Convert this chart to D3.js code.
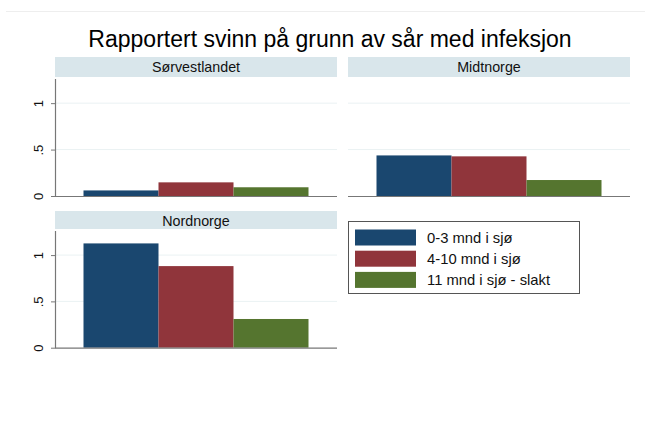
<!DOCTYPE html>
<html>
<head>
<meta charset="utf-8">
<title>Rapportert svinn</title>
<script src="https://d3js.org/d3.v7.min.js"></script>
<style>
  body { margin: 0; background: #fff; }
  text { font-family: Arial, "Liberation Sans", sans-serif; }
</style>
</head>
<body>
<script>
// data
var regions = ["Sørvestlandet", "Midtnorge", "Nordnorge"];
var groups = ["0-3 mnd i sjø", "4-10 mnd i sjø", "11 mnd i sjø - slakt"];
var sorvest = [0.06, 0.147, 0.094];
var midt = [0.437, 0.427, 0.172];
var nord = [1.126, 0.881, 0.31];
var yTicks = [0, 0.5, 1];
var tickLabels = ["0", ".5", "1"];
var colors = ["#1a476f", "#90353b", "#55752f"];

var values = [sorvest, midt, nord];

var svg = d3.select("body").append("svg")
    .attr("width", 645)
    .attr("height", 446);

// faint frame line at top
svg.append("line")
    .attr("x1", 6).attr("x2", 645)
    .attr("y1", 11.5).attr("y2", 11.5)
    .attr("stroke", "#eeeeee");

svg.append("text")
    .attr("x", 330).attr("y", 47)
    .attr("text-anchor", "middle")
    .attr("font-size", 23)
    .attr("fill", "#000")
    .text("Rapportert svinn på grunn av sår med infeksjon");

// panel layout
var panels = [
  {left: 55, top: 57, axisTop: 79, base: 196},
  {left: 348, top: 57, axisTop: 79, base: 196},
  {left: 55, top: 211, axisTop: 231, base: 347.7}
];
var pw = 282;

panels.forEach(function(p, i) {
  var g = svg.append("g");

  var y = d3.scaleLinear().domain([0, 1.26]).range([p.base, p.axisTop]);
  var x = d3.scaleBand().domain(groups)
      .range([p.left, p.left + pw])
      .paddingInner(0).paddingOuter(0.38);

  // strip
  g.append("rect")
      .attr("x", p.left).attr("y", p.top)
      .attr("width", pw).attr("height", p.axisTop - p.top - 2)
      .attr("fill", "#d9e6eb");
  g.append("text")
      .attr("x", p.left + pw / 2).attr("y", p.top + 15)
      .attr("text-anchor", "middle")
      .attr("font-size", 14.3)
      .attr("fill", "#111")
      .text(regions[i]);

  // grid
  g.selectAll(".grid").data(yTicks.slice(1)).enter()
    .append("line")
      .attr("x1", p.left).attr("x2", p.left + pw)
      .attr("y1", function(d) { return y(d); })
      .attr("y2", function(d) { return y(d); })
      .attr("stroke", "#eaf2f3").attr("stroke-width", 1);

  // bars
  g.selectAll(".bar").data(values[i]).enter()
    .append("rect")
      .attr("x", function(d, j) { return x(groups[j]); })
      .attr("y", function(d) { return y(d); })
      .attr("width", x.bandwidth())
      .attr("height", function(d) { return y(0) - y(d); })
      .attr("fill", function(d, j) { return colors[j]; });

  // x axis line
  g.append("line")
      .attr("x1", p.left).attr("x2", p.left + pw)
      .attr("y1", p.base + 0.5).attr("y2", p.base + 0.5)
      .attr("stroke", "#777").attr("stroke-width", 1.2);

  // y axis only for left column
  if (p.left === 55) {
    var axis = d3.axisLeft(y).tickValues(yTicks).tickSize(4)
        .tickFormat(function(d, k) { return tickLabels[k]; });
    var ag = g.append("g")
        .attr("transform", "translate(" + p.left + ",0)")
        .call(axis);
    ag.select(".domain")
        .attr("d", "M0.5," + p.axisTop + "V" + (p.base + 0.5))
        .attr("stroke", "#777").attr("stroke-width", 1.2);
    ag.selectAll(".tick line").attr("stroke", "#777");
    ag.selectAll(".tick text")
        .attr("font-size", 13)
        .attr("fill", "#111")
        .attr("font-family", "Arial, 'Liberation Sans', sans-serif")
        .attr("x", null)
        .attr("text-anchor", "middle")
        .attr("transform", "translate(-17,0) rotate(-90)")
        .attr("y", 0)
        .attr("dy", "0.35em");
  }
});

// legend
var lg = svg.append("g");
lg.append("rect")
    .attr("x", 348.5).attr("y", 221.5)
    .attr("width", 231).attr("height", 72)
    .attr("fill", "#fff").attr("stroke", "#555").attr("stroke-width", 1);
groups.forEach(function(gname, j) {
  var yy = 229.5 + j * 21.2;
  lg.append("rect")
      .attr("x", 355).attr("y", yy)
      .attr("width", 61).attr("height", 16)
      .attr("fill", colors[j]);
  lg.append("text")
      .attr("x", 427).attr("y", yy + 13.5)
      .attr("font-size", 14.8)
      .attr("fill", "#111")
      .text(gname);
});
</script>
</body>
</html>
